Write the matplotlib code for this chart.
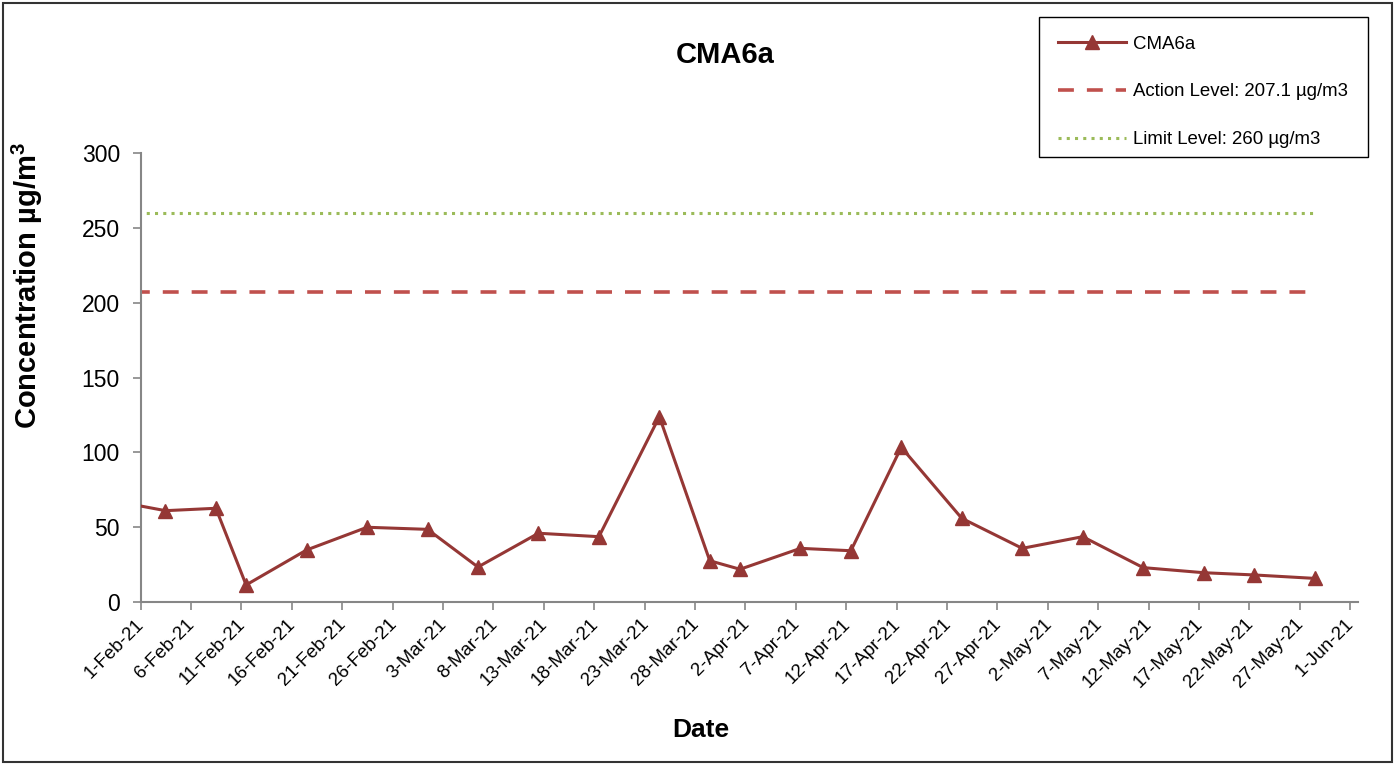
import matplotlib
matplotlib.use("Agg")
import matplotlib.pyplot as plt
import matplotlib.dates as mdates
import matplotlib.ticker as mticker
import matplotlib.transforms as mtransforms
from matplotlib.patches import Rectangle
import pandas as pd

plt.rcParams['font.family'] = ['Liberation Sans', 'DejaVu Sans']

# ---- data ----
sample_dates = ["2021-01-28 11:00", "2021-02-03 11:00", "2021-02-08 11:00", "2021-02-11 11:00",
                "2021-02-17 11:00", "2021-02-23 11:00", "2021-03-01 11:00", "2021-03-06 11:00",
                "2021-03-12 11:00", "2021-03-18 11:00", "2021-03-24 11:00", "2021-03-29 11:00",
                "2021-04-01 11:00", "2021-04-07 11:00", "2021-04-12 11:00", "2021-04-17 11:00",
                "2021-04-23 11:00", "2021-04-29 11:00", "2021-05-05 11:00", "2021-05-11 11:00",
                "2021-05-17 11:00", "2021-05-22 11:00", "2021-05-28 11:00"]
cma6a = [68.5, 60.9, 62.5, 11.2, 34.6, 49.8, 48.4, 23.2, 45.8, 43.5, 123.8, 27.4,
         21.7, 35.7, 34.1, 103.3, 55.8, 35.7, 43.5, 22.8, 19.4, 17.9, 15.6]
action_level = 207.1
limit_level = 260
series_name = "CMA6a"
action_label = "Action Level: 207.1 µg/m3"
limit_label = "Limit Level: 260 µg/m3"
x_start = "2021-02-01"
x_end = "2021-06-01"
y_ticks = [0, 50, 100, 150, 200, 250, 300]

dates = pd.to_datetime(sample_dates)

W, H = 1395, 764
fig = plt.figure(figsize=(W / 100, H / 100), dpi=100)
ax = fig.add_axes([140.7 / W, 1 - 601.7 / H, (1358 - 140.7) / W, (601.7 - 153.3) / H])

ax.plot(dates, [limit_level] * len(dates), color='#9BBB59', lw=2.2,
        linestyle=(0, (1, 1.7)), label=limit_label, zorder=2)
ax.plot(dates, [action_level] * len(dates), color='#C0504D', lw=2.6,
        linestyle=(0, (4.4, 3.6)), label=action_label, zorder=2)
ax.plot(dates, cma6a, color='#953735', lw=2.2, marker='^', markersize=10.5,
        markeredgecolor='#953735', markerfacecolor='#953735', label=series_name, zorder=3)

t0 = pd.Timestamp(x_start)
ax.set_xlim(t0, t0 + pd.Timedelta(days=120.77))
ax.set_ylim(0, 300)
ticks = pd.date_range(x_start, x_end, freq='5D')
ax.xaxis.set_major_locator(mticker.FixedLocator(mdates.date2num(ticks)))
ax.xaxis.set_major_formatter(mticker.FuncFormatter(
    lambda v, p: (lambda d: f"{d.day}-{d:%b}-{d:%y}")(mdates.num2date(v))))
ax.set_yticks(y_ticks)

for s in ['top', 'right']:
    ax.spines[s].set_visible(False)
for s in ['left', 'bottom']:
    ax.spines[s].set_color('#868686')
    ax.spines[s].set_linewidth(1.5)
ax.tick_params(axis='both', colors='#868686', labelcolor='black', length=6, width=1.2, direction='out')
ax.tick_params(axis='y', labelsize=16.5, pad=9)
ax.tick_params(axis='x', labelsize=13.5, pad=4)
offset = mtransforms.ScaledTranslation(-5 / 100, 0, fig.dpi_scale_trans)
for lab in ax.get_xticklabels():
    lab.set_rotation(45)
    lab.set_ha('right')
    lab.set_va('top')
    lab.set_rotation_mode('anchor')
    lab.set_transform(lab.get_transform() + offset)

fig.text(725 / W, 1 - 55 / H, "CMA6a", ha='center', va='center', fontsize=21, fontweight='bold')
fig.text(701 / W, 1 - 730 / H, "Date", ha='center', va='center', fontsize=19, fontweight='bold')
fig.text(27 / W, 1 - 286 / H, "Concentration µg/m$^{\\mathregular{3}}$", ha='center', va='center',
         rotation=90, fontsize=21, fontweight='bold')

handles, labels = ax.get_legend_handles_labels()
order = [2, 1, 0]
leg = fig.legend([handles[i] for i in order], [labels[i] for i in order],
                 loc='upper left', bbox_to_anchor=(1039 / W, 1 - 17 / H),
                 bbox_transform=fig.transFigure, borderaxespad=0,
                 fontsize=13.4, frameon=False, handlelength=3.7,
                 handletextpad=0.35, labelspacing=1.65, borderpad=1.0)

# legend frame
fig.patches.append(Rectangle((1039 / W, 1 - 157 / H), (1368 - 1039) / W, (157 - 17) / H,
                             transform=fig.transFigure, fill=False, edgecolor='black', lw=1.0))
# outer chart border
fig.patches.append(Rectangle((3 / W, 2 / H), (1392 - 3) / W, (762 - 3) / H,
                             transform=fig.transFigure, fill=False, edgecolor='#333333', lw=1.5))

fig.savefig("out.png", dpi=100)
